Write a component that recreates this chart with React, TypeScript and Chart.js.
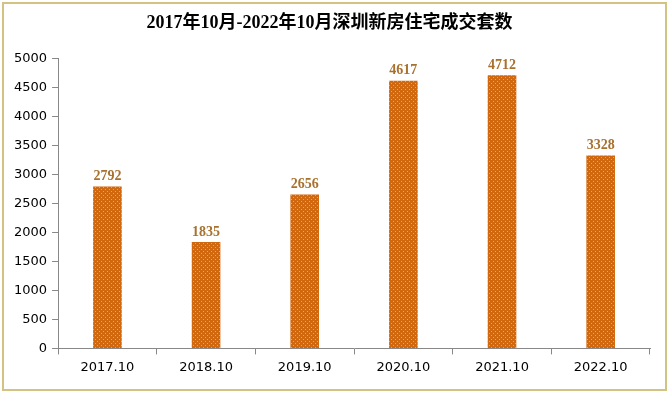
import React, { useEffect, useRef } from "react";
import { Chart, registerables } from "chart.js";

Chart.register(...registerables);

const titleText = "2017年10月-2022年10月深圳新房住宅成交套数";
const categories = ["2017.10", "2018.10", "2019.10", "2020.10", "2021.10", "2022.10"];
const values = [2792, 1835, 2656, 4617, 4712, 3328];
const yTicks = [0, 500, 1000, 1500, 2000, 2500, 3000, 3500, 4000, 4500, 5000];

function makePattern(): CanvasPattern | string {
  const c = document.createElement("canvas");
  c.width = 4;
  c.height = 4;
  const ctx = c.getContext("2d");
  if (!ctx) return "#D86E14";
  ctx.fillStyle = "#D2680E";
  ctx.fillRect(0, 0, 4, 4);
  ctx.fillStyle = "#EFA45A";
  ctx.fillRect(1, 1, 1, 1);
  ctx.fillRect(3, 3, 1, 1);
  return ctx.createPattern(c, "repeat") || "#D86E14";
}

const labelPlugin = {
  id: "barLabels",
  afterDatasetsDraw(chart: any) {
    const ctx = chart.ctx;
    const meta = chart.getDatasetMeta(0);
    ctx.save();
    ctx.font = "bold 14px 'Liberation Serif', 'Times New Roman', serif";
    ctx.fillStyle = "#A8712E";
    ctx.textAlign = "center";
    ctx.textBaseline = "bottom";
    meta.data.forEach((bar: any, i: number) => {
      ctx.fillText(String(values[i]), bar.x, bar.y - 3);
    });
    ctx.restore();
  },
};

const framePlugin = {
  id: "frame",
  beforeDraw(chart: any) {
    const ctx = chart.ctx;
    ctx.save();
    ctx.fillStyle = "#FFFFFF";
    ctx.fillRect(0, 0, chart.width, chart.height);
    ctx.strokeStyle = "#D2C382";
    ctx.lineWidth = 2;
    ctx.strokeRect(3, 3, chart.width - 6, chart.height - 6);
    ctx.restore();
  },
};

export default function App() {
  const ref = useRef<HTMLCanvasElement | null>(null);
  useEffect(() => {
    document.body.style.margin = "0";
    const canvas = ref.current;
    if (!canvas) return;
    const chart = new Chart(canvas, {
      type: "bar",
      data: {
        labels: categories,
        datasets: [
          {
            data: values,
            backgroundColor: makePattern() as any,
            borderWidth: 0,
            barPercentage: 0.29,
            categoryPercentage: 1,
          },
        ],
      },
      options: {
        responsive: false,
        animation: false,
        layout: { padding: { left: 9, right: 19, top: 0, bottom: 13 } },
        plugins: {
          legend: { display: false },
          tooltip: { enabled: false },
          title: {
            display: true,
            text: titleText,
            color: "#000000",
            font: { family: "'Liberation Serif', 'Noto Sans CJK SC', serif", size: 18, weight: "bold" },
            padding: { top: 13, bottom: 24 },
          },
        },
        scales: {
          x: {
            offset: true,
            grid: { display: true, offset: true, drawOnChartArea: false, drawTicks: true, tickLength: 6, color: "#888888" },
            border: { display: true, color: "#888888" },
            ticks: { color: "#000000", font: { family: "Tahoma, 'DejaVu Sans', sans-serif", size: 13 }, padding: 5 },
          },
          y: {
            min: 0,
            max: 5000,
            afterBuildTicks(axis: any) {
              axis.ticks = yTicks.map((v) => ({ value: v }));
            },
            grid: { display: true, drawOnChartArea: false, drawTicks: true, tickLength: 6, color: "#888888" },
            border: { display: true, color: "#888888" },
            ticks: {
              color: "#000000",
              font: { family: "Tahoma, 'DejaVu Sans', sans-serif", size: 13 },
              padding: 5,
              callback: (v: any) => String(v),
            },
          },
        },
      },
      plugins: [framePlugin, labelPlugin],
    });
    return () => chart.destroy();
  }, []);
  return (
    <div style={{ position: "absolute", left: 0, top: 0, width: 669, height: 393 }}>
      <canvas ref={ref} width={669} height={393} style={{ display: "block" }} />
    </div>
  );
}
